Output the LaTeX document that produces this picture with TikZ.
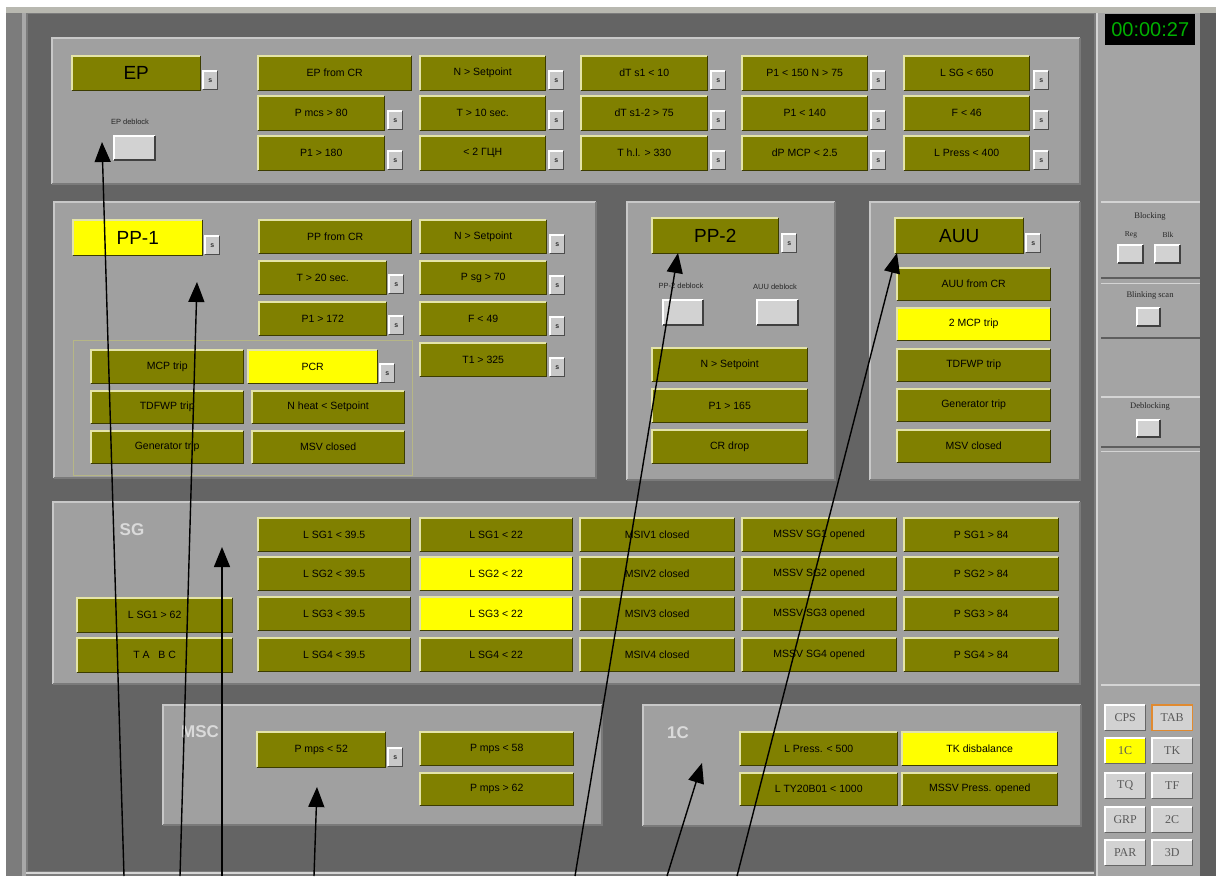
\documentclass[tikz,border=0pt]{standalone}
\usepackage{fontspec}
\setmainfont{Liberation Sans}
\newfontfamily\uiserif{Liberation Serif}
\usetikzlibrary{arrows.meta}
\definecolor{olv}{HTML}{808000}
\definecolor{ylw}{HTML}{FFFF00}
\definecolor{olvhi}{HTML}{E4E4A8}
\definecolor{olvlo}{HTML}{3C3C00}
\definecolor{pnl}{HTML}{A0A0A0}
\definecolor{pnlhi}{HTML}{C8C8C8}
\definecolor{pnllo}{HTML}{7A7A7A}
\definecolor{bgd}{HTML}{646464}
\definecolor{sbx}{HTML}{C8C8C8}
\definecolor{winbg}{HTML}{7C7C7C}
\definecolor{topbar}{HTML}{B8B8B0}
\definecolor{edgehi}{HTML}{D4D4D4}
\definecolor{edgemd}{HTML}{A8A8A8}
\definecolor{side}{HTML}{A4A4A4}
\definecolor{sidedk}{HTML}{5E5E5E}
\definecolor{lbl}{HTML}{DADADA}
\definecolor{gbtn}{HTML}{D2D2D2}
\definecolor{gtxt}{HTML}{5A5A5A}
\definecolor{orng}{HTML}{E08A30}
\definecolor{tgreen}{HTML}{00B000}
\tikzset{
  btn/.style={inner sep=0pt, draw=none, font=\fontsize{10.5}{12}\selectfont, text=black},
  hiL/.style={line width=1.6pt, olvhi},
  loL/.style={line width=1.6pt, olvlo},
  panel/.style={fill=pnl, draw=none, inner sep=0pt},
  sbox/.style={fill=sbx, minimum width=14pt, minimum height=18pt, inner sep=0pt, font=\fontsize{7}{8}\selectfont\bfseries, text=black!80},
  dbtn/.style={fill=gbtn, inner sep=0pt, draw=none},
  small/.style={font=\fontsize{7.5}{9}\selectfont, text=black!85, inner sep=0pt},
  plabel/.style={font=\fontsize{17}{20}\selectfont\bfseries, text=lbl, inner sep=0pt},
  slabel/.style={font=\uiserif\fontsize{8.5}{10}\selectfont, text=black!85, inner sep=0pt},
  gb/.style={fill=gbtn, inner sep=0pt, minimum width=40pt, minimum height=25pt, font=\uiserif\fontsize{12}{14}\selectfont, text=gtxt},
  arr/.style={line width=1.4pt, black, -{Triangle[length=20pt,width=16pt]}},
}
\newcommand{\Btn}[7][olv]{%
  \node[btn,fill=#1,minimum width=#5pt,minimum height=#6pt,anchor=north west] (#2) at (#3,#4) {#7};%
  \draw[hiL] (#2.south west) -- (#2.north west) -- (#2.north east);%
  \draw[loL] (#2.north east) -- (#2.south east) -- (#2.south west);%
}
\newcommand{\SBx}[3]{%
  \node[sbox,anchor=north west] (#1) at (#2,#3) {s};%
  \draw[line width=1.2pt,white] (#1.south west) -- (#1.north west) -- (#1.north east);%
  \draw[line width=1.2pt,black!70] (#1.north east) -- (#1.south east) -- (#1.south west);%
}
\newcommand{\Pnl}[5]{%
  \node[panel,minimum width=#4pt,minimum height=#5pt,anchor=north west] (#1) at (#2,#3) {};%
  \draw[line width=2.5pt,pnlhi] (#1.south west) -- (#1.north west) -- (#1.north east);%
  \draw[line width=2pt,pnllo] (#1.north east) -- (#1.south east) -- (#1.south west);%
}
\newcommand{\DBtn}[5]{%
  \node[dbtn,minimum width=#4pt,minimum height=#5pt,anchor=north west] (#1) at (#2,#3) {};%
  \draw[line width=2pt,white] (#1.south west) -- (#1.north west) -- (#1.north east);%
  \draw[line width=2pt,black!75] (#1.north east) -- (#1.south east) -- (#1.south west);%
}
\newcommand{\GBtn}[5][gbtn]{%
  \node[gb,fill=#1,anchor=north west] (#2) at (#3,#4) {#5};%
  \draw[line width=1.5pt,white] (#2.south west) -- (#2.north west) -- (#2.north east);%
  \draw[line width=1.5pt,black!60] (#2.north east) -- (#2.south east) -- (#2.south west);%
}
\begin{document}
\begin{tikzpicture}[x=1pt,y=-1pt]
\useasboundingbox (0,0) rectangle (1216,876);
% window background
\fill[white] (0,0) rectangle (1216,876);
\fill[winbg] (6,7) rectangle (1216,876);
\fill[topbar] (6,7) rectangle (1216,13);
\fill[bgd] (28,14) rectangle (1094,871);
\draw[line width=4pt,edgemd] (24,13) -- (24,876);
\draw[line width=2pt,edgehi] (26,873) -- (1094,873);
\draw[line width=2pt,edgehi] (1097,13) -- (1097,876);
\fill[side] (1098,13) rectangle (1200,876);
\fill[sidedk] (1200,13) rectangle (1216,876);

% ================= EP panel
\Pnl{pEP}{52}{38}{1028}{146}
\Btn{ep}{72}{56}{128}{34}{\fontsize{19}{22}\selectfont EP}
\SBx{epS}{203}{71}
\node[small] (epdl) at (130,122) {EP deblock};
\DBtn{epdb}{114}{136}{41}{24}
% column 1
\Btn{e11}{258}{56}{153}{34}{EP from CR}
\Btn{e12}{258}{96}{126}{34}{P mcs > 80}
\SBx{e12s}{388}{111}
\Btn{e13}{258}{136}{126}{34}{P1 > 180}
\SBx{e13s}{388}{151}
% column 2
\Btn{e21}{420}{56}{125}{34}{N > Setpoint}
\SBx{e21s}{549}{71}
\Btn{e22}{420}{96}{125}{34}{T > 10 sec.}
\SBx{e22s}{549}{111}
\Btn{e23}{420}{136}{125}{34}{< 2 ГЦН}
\SBx{e23s}{549}{151}
% column 3
\Btn{e31}{581}{56}{126}{34}{dT s1 < 10}
\SBx{e31s}{711}{71}
\Btn{e32}{581}{96}{126}{34}{dT s1-2 > 75}
\SBx{e32s}{711}{111}
\Btn{e33}{581}{136}{126}{34}{T h.l. > 330}
\SBx{e33s}{711}{151}
% column 4
\Btn{e41}{742}{56}{125}{34}{P1 < 150 N > 75}
\SBx{e41s}{871}{71}
\Btn{e42}{742}{96}{125}{34}{P1 < 140}
\SBx{e42s}{871}{111}
\Btn{e43}{742}{136}{125}{34}{dP MCP < 2.5}
\SBx{e43s}{871}{151}
% column 5
\Btn{e51}{904}{56}{125}{34}{L SG < 650}
\SBx{e51s}{1034}{71}
\Btn{e52}{904}{96}{125}{34}{F < 46}
\SBx{e52s}{1034}{111}
\Btn{e53}{904}{136}{125}{34}{L Press < 400}
\SBx{e53s}{1034}{151}

% ================= PP-1 panel
\Pnl{pPP1}{54}{202}{542}{276}
\Btn[ylw]{pp1}{73}{220}{129}{35}{\fontsize{19}{22}\selectfont PP-1}
\SBx{pp1S}{205}{236}
\Btn{a11}{259}{220}{152}{33}{PP from CR}
\Btn{a12}{259}{261}{127}{33}{T > 20 sec.}
\SBx{a12s}{389}{275}
\Btn{a13}{259}{302}{127}{33}{P1 > 172}
\SBx{a13s}{389}{316}
\Btn{a21}{420}{220}{126}{33}{N > Setpoint}
\SBx{a21s}{550}{235}
\Btn{a22}{420}{261}{126}{33}{P sg > 70}
\SBx{a22s}{550}{276}
\Btn{a23}{420}{302}{126}{33}{F < 49}
\SBx{a23s}{550}{317}
\Btn{a24}{420}{343}{126}{33}{T1 > 325}
\SBx{a24s}{550}{358}
\node[draw=olvhi!80!black, line width=1pt, minimum width=339pt, minimum height=135pt, anchor=north west, inner sep=0pt] (pp1in) at (73,340) {};
\Btn{b11}{91}{350}{152}{33}{MCP trip}
\Btn[ylw]{b12}{248}{350}{129}{33}{PCR}
\SBx{b12s}{380}{364}
\Btn{b21}{91}{391}{152}{32}{TDFWP trip}
\Btn{b22}{252}{391}{152}{32}{N heat < Setpoint}
\Btn{b31}{91}{431}{152}{32}{Generator trip}
\Btn{b32}{252}{431}{152}{32}{MSV closed}

% ================= PP-2 panel
\Pnl{pPP2}{627}{202}{208}{278}
\Btn{pp2}{652}{218}{126}{35}{\fontsize{19}{22}\selectfont PP-2}
\SBx{pp2S}{782}{234}
\node[small] (pp2dl) at (681,286) {PP-2 deblock};
\node[small] (auudl) at (775,287) {AUU deblock};
\DBtn{pp2db}{663}{300}{40}{25}
\DBtn{auudb}{757}{300}{41}{25}
\Btn{c1}{652}{348}{155}{33}{N > Setpoint}
\Btn{c2}{652}{389}{155}{33}{P1 > 165}
\Btn{c3}{652}{430}{155}{33}{CR drop}

% ================= AUU panel
\Pnl{pAUU}{870}{202}{210}{278}
\Btn{auu}{895}{218}{128}{35}{\fontsize{19}{22}\selectfont AUU}
\SBx{auuS}{1026}{234}
\Btn{d1}{897}{268}{153}{32}{AUU from CR}
\Btn[ylw]{d2}{897}{308}{153}{32}{2 MCP trip}
\Btn{d3}{897}{349}{153}{32}{TDFWP trip}
\Btn{d4}{897}{389}{153}{32}{Generator trip}
\Btn{d5}{897}{430}{153}{32}{MSV closed}

% ================= SG panel
\Pnl{pSG}{53}{502}{1027}{182}
\node[plabel] (sgl) at (132,530) {SG};
\Btn{g01}{77}{598}{155}{34}{L SG1 > 62}
\Btn{g02}{77}{638}{155}{34}{T A \ \ B C}
\Btn{g11}{258}{518}{152}{33}{L SG1 < 39.5}
\Btn{g12}{258}{557}{152}{33}{L SG2 < 39.5}
\Btn{g13}{258}{597}{152}{33}{L SG3 < 39.5}
\Btn{g14}{258}{638}{152}{33}{L SG4 < 39.5}
\Btn{g21}{420}{518}{152}{33}{L SG1 < 22}
\Btn[ylw]{g22}{420}{557}{152}{33}{L SG2 < 22}
\Btn[ylw]{g23}{420}{597}{152}{33}{L SG3 < 22}
\Btn{g24}{420}{638}{152}{33}{L SG4 < 22}
\Btn{g31}{580}{518}{154}{33}{MSIV1 closed}
\Btn{g32}{580}{557}{154}{33}{MSIV2 closed}
\Btn{g33}{580}{597}{154}{33}{MSIV3 closed}
\Btn{g34}{580}{638}{154}{33}{MSIV4 closed}
\Btn{g41}{742}{518}{154}{33}{MSSV SG1 opened}
\Btn{g42}{742}{557}{154}{33}{MSSV SG2 opened}
\Btn{g43}{742}{597}{154}{33}{MSSV SG3 opened}
\Btn{g44}{742}{638}{154}{33}{MSSV SG4 opened}
\Btn{g51}{904}{518}{154}{33}{P SG1 > 84}
\Btn{g52}{904}{557}{154}{33}{P SG2 > 84}
\Btn{g53}{904}{597}{154}{33}{P SG3 > 84}
\Btn{g54}{904}{638}{154}{33}{P SG4 > 84}

% ================= MSC panel
\Pnl{pMSC}{163}{705}{439}{120}
\node[plabel] (mscl) at (200,732) {MSC};
\Btn{m1}{257}{732}{128}{35}{P mps < 52}
\SBx{m1s}{388}{748}
\Btn{m2}{420}{732}{153}{33}{P mps < 58}
\Btn{m3}{420}{773}{153}{32}{P mps > 62}

% ================= 1C panel
\Pnl{p1C}{643}{705}{438}{121}
\node[plabel] (oncl) at (678,733) {1C};
\Btn{k1}{740}{732}{157}{33}{L Press. < 500}
\Btn[ylw]{k2}{902}{732}{155}{33}{TK disbalance}
\Btn{k3}{740}{773}{157}{32}{L TY20B01 < 1000}
\Btn{k4}{902}{773}{155}{32}{MSSV Press. opened}

% ================= sidebar
\node[fill=black, minimum width=90pt, minimum height=31pt, anchor=north west, inner sep=0pt, font=\fontsize{20}{22}\selectfont, text=tgreen] (tmr) at (1105,14) {00:00:27};
\draw[line width=1.5pt,edgehi] (1101,202) -- (1200,202);
\node[slabel] (blkl) at (1150,216) {Blocking};
\node[slabel, font=\uiserif\fontsize{7.5}{9}\selectfont] (regl) at (1131,235) {Reg};
\node[slabel, font=\uiserif\fontsize{7.5}{9}\selectfont] (blkb) at (1168,235) {Blk};
\DBtn{regb}{1118}{245}{25}{18}
\DBtn{blkbt}{1155}{245}{25}{18}
\draw[line width=1.5pt,sidedk] (1101,278) -- (1200,278);
\draw[line width=1pt,edgehi] (1101,283) -- (1200,283);
\node[slabel] (blnl) at (1150,295) {Blinking scan};
\DBtn{blnb}{1137}{308}{23}{18}
\draw[line width=1.5pt,sidedk] (1101,338) -- (1200,338);
\draw[line width=1.5pt,edgehi] (1101,397) -- (1200,397);
\node[slabel] (debl) at (1150,406) {Deblocking};
\DBtn{debb}{1137}{420}{23}{17}
\draw[line width=1.5pt,sidedk] (1101,447) -- (1200,447);
\draw[line width=1pt,edgehi] (1101,451) -- (1200,451);
\draw[line width=1.5pt,edgehi] (1101,685) -- (1200,685);
\GBtn{cps}{1105}{705}{CPS}
\GBtn{tab}{1152}{705}{TAB}
\draw[orng, line width=1.2pt] (tab.south west) rectangle (tab.north east);
\GBtn[ylw]{ic}{1105}{738}{1C}
\GBtn{tk}{1152}{738}{TK}
\GBtn{tq}{1105}{773}{TQ}
\GBtn{tf}{1152}{773}{TF}
\GBtn{grp}{1105}{807}{GRP}
\GBtn{twc}{1152}{807}{2C}
\GBtn{par}{1105}{840}{PAR}
\GBtn{thd}{1152}{840}{3D}

% ================= arrows
\coordinate (s1) at (124,876);  \coordinate (t1) at (102,142);
\coordinate (s2) at (180,876);  \coordinate (t2) at (197,282);
\coordinate (s3) at (222,876);  \coordinate (t3) at (222,547);
\coordinate (s4) at (314,876);  \coordinate (t4) at (317,787);
\coordinate (s5) at (575,876);  \coordinate (t5) at (678,253);
\coordinate (s6) at (667,876);  \coordinate (t6) at (702,763);
\coordinate (s7) at (737,876);  \coordinate (t7) at (897,253);
\draw[arr] (s1) -- (t1);
\draw[arr] (s2) -- (t2);
\draw[arr] (s3) -- (t3);
\draw[arr] (s4) -- (t4);
\draw[arr] (s5) -- (t5);
\draw[arr] (s6) -- (t6);
\draw[arr] (s7) -- (t7);
\end{tikzpicture}
\end{document}
